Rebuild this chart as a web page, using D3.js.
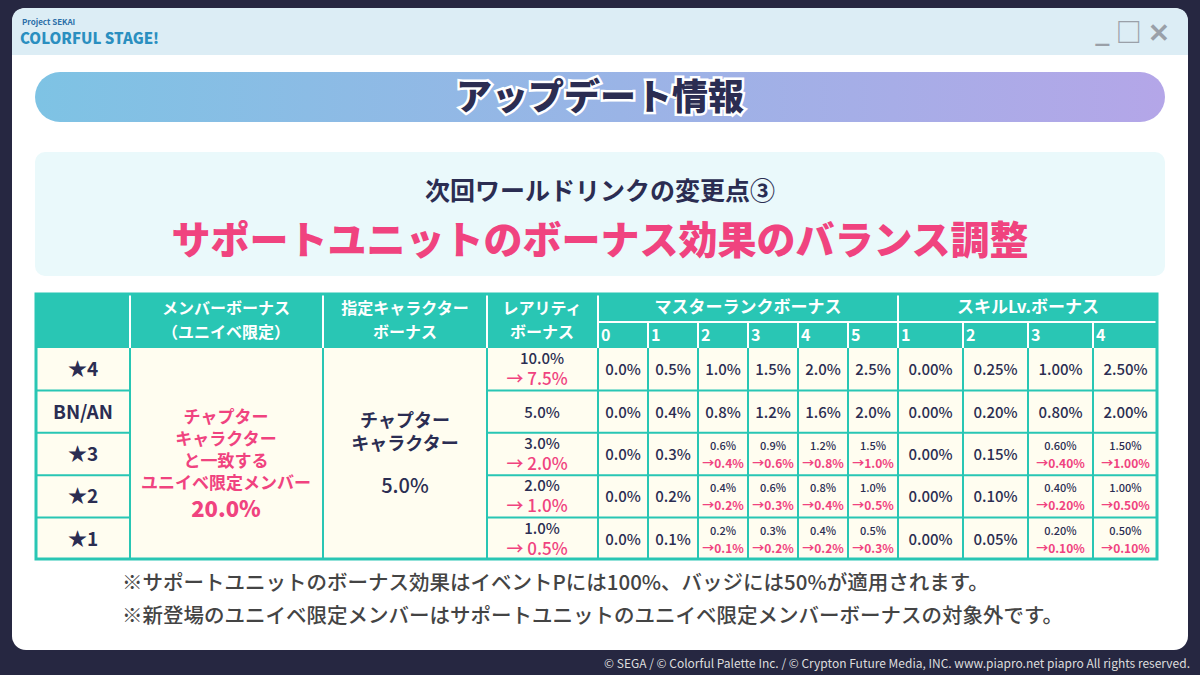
<!DOCTYPE html><html><head><meta charset="utf-8"><script src="https://cdn.jsdelivr.net/npm/d3@7"></script>
<style>body{margin:0;background:#2a2a40}svg{display:block}text{font-family:"Noto Sans CJK JP","Noto Sans",sans-serif}</style></head><body><svg id="c" width="1200" height="675"></svg>
<script>
const rowLabels=["★4","BN/AN","★3","★2","★1"];
const rarityOld=["10.0%","5.0%","3.0%","2.0%","1.0%"];
const rarityNew=["→ 7.5%",null,"→ 2.0%","→ 1.0%","→ 0.5%"];
const masterHeads=["0","1","2","3","4","5"];
const skillHeads=["1","2","3","4"];
const masterOld=[
["0.0%","0.5%","1.0%","1.5%","2.0%","2.5%"],
["0.0%","0.4%","0.8%","1.2%","1.6%","2.0%"],
["0.0%","0.3%","0.6%","0.9%","1.2%","1.5%"],
["0.0%","0.2%","0.4%","0.6%","0.8%","1.0%"],
["0.0%","0.1%","0.2%","0.3%","0.4%","0.5%"]];
const masterNew=[
[null,null,null,null,null,null],[null,null,null,null,null,null],
[null,null,"→0.4%","→0.6%","→0.8%","→1.0%"],
[null,null,"→0.2%","→0.3%","→0.4%","→0.5%"],
[null,null,"→0.1%","→0.2%","→0.2%","→0.3%"]];
const skillOld=[
["0.00%","0.25%","1.00%","2.50%"],["0.00%","0.20%","0.80%","2.00%"],
["0.00%","0.15%","0.60%","1.50%"],["0.00%","0.10%","0.40%","1.00%"],
["0.00%","0.05%","0.20%","0.50%"]];
const skillNew=[
[null,null,null,null],[null,null,null,null],
[null,null,"→0.40%","→1.00%"],[null,null,"→0.20%","→0.50%"],[null,null,"→0.10%","→0.10%"]];
const notes=["※サポートユニットのボーナス効果はイベントPには100%、バッジには50%が適用されます。",
"※新登場のユニイベ限定メンバーはサポートユニットのユニイベ限定メンバーボーナスの対象外です。"];

const svg=d3.select("#c");
const dark="#2b2d52",pink="#f0437f",teal="#29c6b4";
const defs=svg.append("defs");
const g1=defs.append("linearGradient").attr("id","tg");
g1.append("stop").attr("offset","0").attr("stop-color","#7ec3e4");
g1.append("stop").attr("offset","1").attr("stop-color","#b4a6e8");
svg.append("rect").attr("width",1200).attr("height",675).attr("fill","#262741");
svg.append("rect").attr("x",12).attr("y",8).attr("width",1176).attr("height",642).attr("rx",14).attr("fill","#fff");
svg.append("path").attr("d","M12,55 V22 Q12,8 26,8 H1174 Q1188,8 1188,22 V55 Z").attr("fill","#dcedf5");
svg.append("text").attr("x",22).attr("y",25).attr("font-size",8).attr("fill","#2b6fa8").attr("font-weight",700).text("Project SEKAI");
svg.append("text").attr("x",20).attr("y",44).attr("font-size",15).attr("font-weight",900).attr("fill","#2a8fc0").text("COLORFUL STAGE!");
svg.append("text").attr("x",1095).attr("y",42).attr("font-size",26).attr("fill","#9aa0a8").attr("font-weight",700).text("_ □ ✕");
svg.append("rect").attr("x",35).attr("y",72).attr("width",1130).attr("height",50).attr("rx",25).attr("fill","url(#tg)");
svg.append("text").attr("x",600).attr("y",110).attr("text-anchor","middle").attr("font-size",36).attr("font-weight",900).attr("fill",dark).attr("stroke","#fff").attr("stroke-width",5).attr("paint-order","stroke").text("アップデート情報");
svg.append("rect").attr("x",35).attr("y",152).attr("width",1130).attr("height",124).attr("rx",10).attr("fill","#eaf9fb");
svg.append("text").attr("x",600).attr("y",200).attr("text-anchor","middle").attr("font-size",25).attr("font-weight",700).attr("fill",dark).text("次回ワールドリンクの変更点③");
svg.append("text").attr("x",600).attr("y",254).attr("text-anchor","middle").attr("font-size",39).attr("font-weight",900).attr("fill",pink).text("サポートユニットのボーナス効果のバランス調整");

const mx=d3.scaleBand().domain(masterHeads).range([598,898]);
const sx=d3.scaleBand().domain(skillHeads).range([898,1158]);
const ry=d3.scaleBand().domain(d3.range(5)).range([348,560]);
const T=svg.append("g");
T.append("rect").attr("x",35).attr("y",293).attr("width",1123).attr("height",267).attr("fill","#fffdf0");
T.append("rect").attr("x",35).attr("y",293).attr("width",1123).attr("height",55).attr("fill",teal);
function txt(x,y,s,size,col,w,anchor){return T.append("text").attr("x",x).attr("y",y).attr("text-anchor",anchor||"middle").attr("font-size",size).attr("fill",col).attr("font-weight",w||700).text(s);}
txt(226,314,"メンバーボーナス",16,"#fff");txt(226,338,"（ユニイベ限定）",16,"#fff");
txt(405,314,"指定キャラクター",16,"#fff");txt(405,338,"ボーナス",16,"#fff");
txt(542,314,"レアリティ",16,"#fff");txt(542,338,"ボーナス",16,"#fff");
txt(748,313,"マスターランクボーナス",17,"#fff");txt(1028,313,"スキルLv.ボーナス",17,"#fff");
masterHeads.forEach(h=>txt(mx(h)+3,341,h,16,"#fff",700,"start"));
skillHeads.forEach(h=>txt(sx(h)+3,341,h,16,"#fff",700,"start"));
rowLabels.forEach((l,i)=>txt(83,ry(i)+ry.bandwidth()/2+7,l,19,dark));
["チャプター","キャラクター","と一致する","ユニイベ限定メンバー"].forEach((s,i)=>txt(226,423+i*22,s,17,pink));
txt(226,517,"20.0%",22,pink,900);
txt(405,427,"チャプター",18,dark);txt(405,450,"キャラクター",18,dark);
txt(405,493,"5.0%",20,dark,500);
function cell(cx,i,o,n){const yc=ry(i)+ry.bandwidth()/2;
 if(n){txt(cx,yc-4,o,11,dark,500);txt(cx,yc+14,n,12,pink,700);}
 else txt(cx,yc+6,o,15,dark,500);}
rowLabels.forEach((_,i)=>{
 const yc=ry(i)+ry.bandwidth()/2;
 if(rarityNew[i]){txt(542,yc-5,rarityOld[i],15,dark,500);txt(537,yc+16,rarityNew[i],17,pink,500);} else txt(542,yc+6,rarityOld[i],15,dark,500);
 masterHeads.forEach((h,j)=>cell(mx(h)+mx.bandwidth()/2,i,masterOld[i][j],masterNew[i][j]));
 skillHeads.forEach((h,j)=>cell(sx(h)+sx.bandwidth()/2,i,skillOld[i][j],skillNew[i][j]));
});
const L=(x1,y1,x2,y2,c,w)=>T.append("line").attr("x1",x1).attr("y1",y1).attr("x2",x2).attr("y2",y2).attr("stroke",c||teal).attr("stroke-width",w||2);
[130,323,487,598,898].forEach(x=>L(x,293,x,560,"#fff"));
[130,323,487,598,898].forEach(x=>L(x,348,x,560));
masterHeads.slice(1).forEach(h=>{L(mx(h),322,mx(h),348,"#fff");L(mx(h),348,mx(h),560);});
skillHeads.slice(1).forEach(h=>{L(sx(h),322,sx(h),348,"#fff");L(sx(h),348,sx(h),560);});
L(598,322,1158,322,"#fff");
d3.range(1,5).forEach(i=>{L(35,ry(i),130,ry(i));L(487,ry(i),1158,ry(i));});
T.append("rect").attr("x",36).attr("y",294).attr("width",1121).attr("height",265).attr("fill","none").attr("stroke",teal).attr("stroke-width",3);
notes.forEach((n,i)=>svg.append("text").attr("x",122).attr("y",590+i*33).attr("font-size",20.5).attr("font-weight",500).attr("fill","#444").text(n));
svg.append("text").attr("x",1190).attr("y",668).attr("text-anchor","end").attr("font-size",12).attr("fill","#ddd").text("© SEGA / © Colorful Palette Inc. / © Crypton Future Media, INC. www.piapro.net piapro All rights reserved.");
</script></body></html>
